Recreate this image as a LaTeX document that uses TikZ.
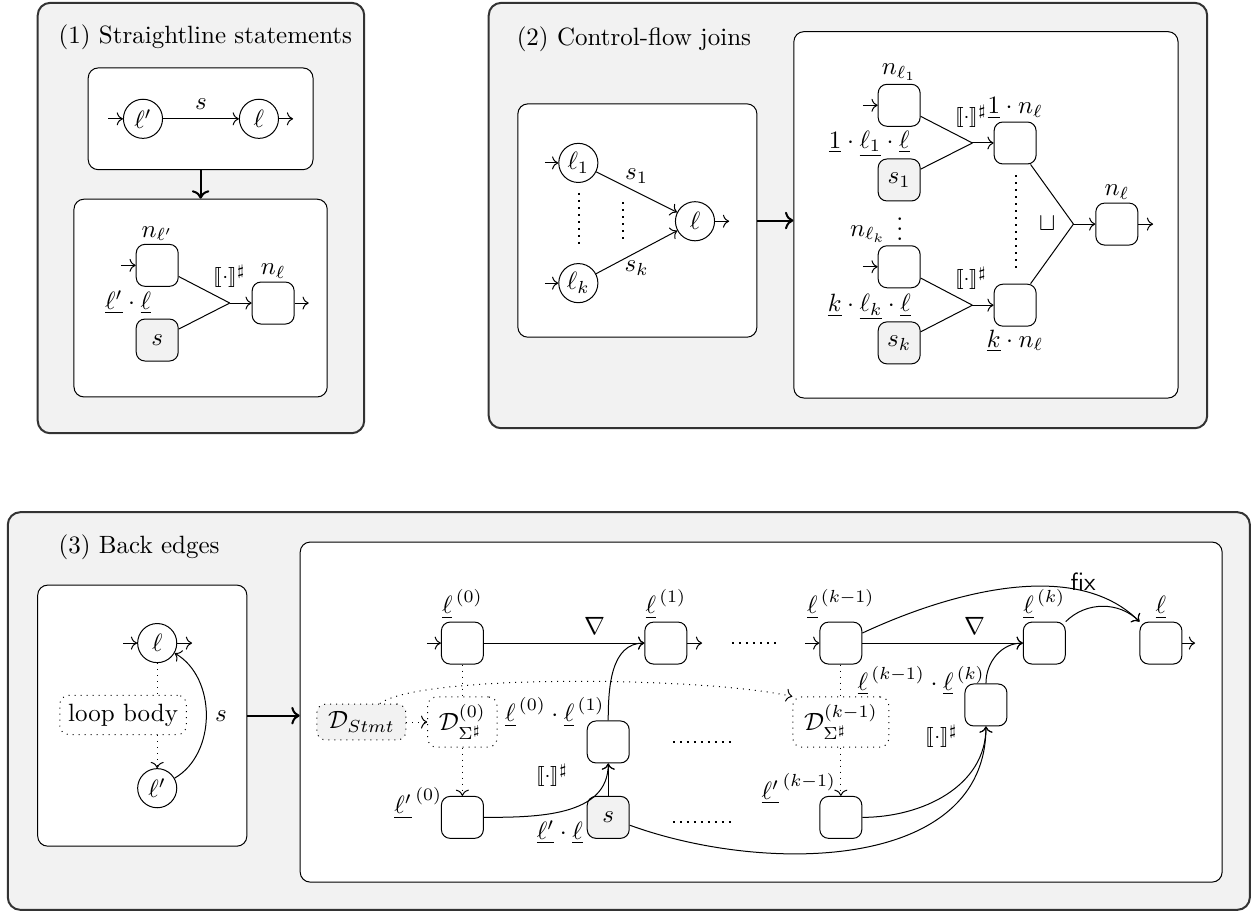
\documentclass[tikz,border=0pt]{standalone}
\usepackage{amsmath}
\usepackage{amssymb}
\IfFileExists{stmaryrd.sty}{\usepackage{stmaryrd}}{%
  \providecommand{\llbracket}{[\![}\providecommand{\rrbracket}{]\!]}}
\usepackage{tikz}
\usetikzlibrary{arrows.meta, positioning, calc}

\newcommand{\absem}{\ensuremath{\llbracket\cdot\rrbracket^{\sharp}}}

\begin{document}
\begin{tikzpicture}[
  panel/.style={
    draw=black!80,
    thick,
    fill=gray!10,
    rounded corners=5pt
  },
  container/.style={
    draw,
    fill=white,
    rounded corners=4pt,
    inner sep=0pt
  },
  locnode/.style={
    draw,
    circle,
    inner sep=1pt,
    minimum size=0.55cm
  },
  absbox/.style={
    draw,
    rounded corners=3.5pt,
    minimum size=0.59cm,
    inner sep=1pt
  },
  stmtbox/.style={
    absbox,
    fill=gray!10
  },
  dombox/.style={
    draw,
    dotted,
    rounded corners=3.5pt,
    inner xsep=4.5pt,
    inner ysep=3pt
  },
  lbl/.style={
    inner sep=0pt
  },
  semop/.style={
    lbl,
    font=\footnotesize
  },
  dotrow/.style={
    thick,
    dotted
  },
  every label/.style={
    inner sep=1pt
  }
]

\useasboundingbox (0,0) rectangle (17.60,-12.81);

% Panels
\draw[panel] (0.53,-0.04) rectangle (5.12,-6.09);
\draw[panel] (6.87,-0.04) rectangle (16.97,-6.02);
\draw[panel] (0.11,-7.20) rectangle (17.57,-12.79);

% Titles
\node[anchor=west] (titleA) at (0.70,-0.53) {(1) Straightline statements};
\node[anchor=west] (titleB) at (7.14,-0.55) {(2) Control-flow joins};
\node[anchor=west] (titleC) at (0.70,-7.69) {(3) Back edges};

% ---------------- (1) Straightline statements ----------------
\node[container, minimum width=3.16cm, minimum height=1.43cm] (seqA) at (2.82,-1.67) {};
\node[container, minimum width=3.56cm, minimum height=2.78cm] (seqB) at (2.82,-4.19) {};
\draw[thick, ->] (seqA) -- (seqB);

\node[locnode] (lpA) at (2.01,-1.67) {$\ell'$};
\node[locnode] (lA) at (3.64,-1.67) {$\ell$};
\coordinate (inA) at (1.52,-1.67);
\coordinate (outA) at (4.12,-1.67);
\draw[->] (inA) -- (lpA);
\draw[->] (lpA) -- node[above] {$s$} (lA);
\draw[->] (lA) -- (outA);

\node[absbox, label=above:{$n_{\ell'}$}] (nlpA) at (2.21,-3.73) {};
\node[stmtbox] (sA) at (2.21,-4.78) {$s$};
\node[absbox, label=above:{$n_{\ell}$}] (nlA) at (3.84,-4.26) {};
\node[lbl] (edgeA) at (1.80,-4.25) {$\underline{\ell'}\cdot\underline{\ell}$};
\node[semop] (opA) at (3.23,-3.88) {\absem};
\coordinate (jnA) at (3.23,-4.26);
\coordinate (inB) at (1.70,-3.73);
\coordinate (outB) at (4.34,-4.26);
\draw[->] (inB) -- (nlpA);
\draw (nlpA) -- (jnA) (sA) -- (jnA);
\draw[->] (jnA) -- (nlA);
\draw[->] (nlA) -- (outB);

% ---------------- (2) Control-flow joins ----------------
\node[container, minimum width=3.36cm, minimum height=3.28cm] (joinA) at (8.96,-3.10) {};
\node[container, minimum width=5.40cm, minimum height=5.15cm] (joinB) at (13.86,-3.02) {};
\draw[thick, ->] (joinA.east) -- (joinA.east -| joinB.west);

\node[locnode] (lOne) at (8.13,-2.29) {$\ell_1$};
\node[locnode] (lK) at (8.13,-3.98) {$\ell_k$};
\node[locnode] (lJ) at (9.77,-3.11) {$\ell$};
\coordinate (inOne) at (7.66,-2.29);
\coordinate (inK) at (7.66,-3.98);
\coordinate (outJ) at (10.25,-3.11);
\draw[->] (inOne) -- (lOne);
\draw[->] (inK) -- (lK);
\draw[->] (lOne) -- node[above] {$s_1$} (lJ);
\draw[->] (lK) -- node[below] {$s_k$} (lJ);
\draw[->] (lJ) -- (outJ);
\draw[dotrow] (8.14,-2.71) -- (8.14,-3.49);
\draw[dotrow] (8.76,-2.84) -- (8.76,-3.39);

\node[absbox, label=above:{$n_{\ell_1}$}] (nOne) at (12.64,-1.48) {};
\node[stmtbox] (sOne) at (12.64,-2.53) {$s_1$};
\node[absbox, label=above:{$\underline{1}\cdot n_{\ell}$}] (aOne) at (14.27,-2.01) {};
\node[absbox] (nK) at (12.64,-3.75) {};
\node[stmtbox] (sK) at (12.64,-4.82) {$s_k$};
\node[absbox, label=below:{$\underline{k}\cdot n_{\ell}$}] (aK) at (14.27,-4.29) {};
\node[absbox, label=above:{$n_{\ell}$}] (nJ) at (15.70,-3.15) {};

\node[lbl] (edgeOne) at (12.22,-2.02) {$\underline{1}\cdot\underline{\ell_1}\cdot\underline{\ell}$};
\node[lbl] (edgeK) at (12.22,-4.32) {$\underline{k}\cdot\underline{\ell_k}\cdot\underline{\ell}$};
\node[semop] (opOne) at (13.65,-1.63) {\absem};
\node[semop] (opK) at (13.65,-3.91) {\absem};
\node[lbl] (vdotsK) at (12.65,-3.12) {$\vdots$};
\node[lbl] (nlkLabel) at (12.20,-3.29) {$n_{\ell_k}$};
\node[lbl] (joinOp) at (14.72,-3.14) {$\sqcup$};
\draw[dotrow] (14.28,-2.46) -- (14.28,-3.82);

\coordinate (jnOne) at (13.67,-2.01);
\coordinate (jnK) at (13.67,-4.29);
\coordinate (jnJ) at (15.09,-3.15);
\coordinate (inNOne) at (12.13,-1.48);
\coordinate (inNK) at (12.13,-3.75);
\coordinate (outNJ) at (16.21,-3.15);
\draw[->] (inNOne) -- (nOne);
\draw[->] (inNK) -- (nK);
\draw (nOne) -- (jnOne) (sOne) -- (jnOne);
\draw (nK) -- (jnK) (sK) -- (jnK);
\draw[->] (jnOne) -- (aOne);
\draw[->] (jnK) -- (aK);
\draw (aOne) -- (jnJ) (aK) -- (jnJ);
\draw[->] (jnJ) -- (nJ);
\draw[->] (nJ) -- (outNJ);

% ---------------- (3) Back edges ----------------
\node[container, minimum width=2.94cm, minimum height=3.67cm] (loopA) at (2.00,-10.06) {};
\node[container, minimum width=12.96cm, minimum height=4.78cm] (loopB) at (10.70,-10.01) {};
\draw[thick, ->] (loopA.east) -- (loopA.east -| loopB.west);

\node[locnode] (lL) at (2.21,-9.04) {$\ell$};
\node[locnode] (lpL) at (2.21,-11.08) {$\ell'$};
\node[draw, dotted, rounded corners=3.5pt] (body) at (1.73,-10.05) {loop body};
\coordinate (inL) at (1.73,-9.04);
\coordinate (outL) at (2.70,-9.04);
\draw[->] (inL) -- (lL);
\draw[->] (lL) -- (outL);
\draw[dotted] (lL) -- (lL |- body.north);
\draw[dotted, ->] (lpL |- body.south) -- (lpL);
\draw[->] (lpL) to[bend right=60] node[right] {$s$} (lL);

% top row
\node[absbox, label=above:{$\underline{\ell}^{\,(0)}$}] (bZero) at (6.50,-9.04) {};
\node[absbox, label=above:{$\underline{\ell}^{\,(1)}$}] (bOne) at (9.36,-9.04) {};
\node[absbox, label=above:{$\underline{\ell}^{\,(k-1)}$}] (bKm) at (11.82,-9.04) {};
\node[absbox, label=above:{$\underline{\ell}^{\,(k)}$}] (bK) at (14.68,-9.04) {};
\node[absbox, label=above:{$\underline{\ell}$}] (bFix) at (16.32,-9.04) {};

% middle row
\node[dombox, fill=gray!10] (dStmt) at (5.08,-10.15) {$\mathcal{D}_{Stmt}$};
\node[dombox] (dZero) at (6.50,-10.15) {$\mathcal{D}^{(0)}_{\Sigma^\sharp}$};
\node[dombox] (dKm) at (11.82,-10.15) {$\mathcal{D}^{(k-1)}_{\Sigma^\sharp}$};
\node[absbox] (mOne) at (8.55,-10.43) {};
\node[absbox] (mK) at (13.86,-9.91) {};

% bottom row
\node[absbox] (bpZero) at (6.50,-11.49) {};
\node[stmtbox] (sL) at (8.55,-11.49) {$s$};
\node[absbox] (bpKm) at (11.82,-11.49) {};

% labels
\node[lbl] (edgeC1) at (7.80,-10.01) {$\underline{\ell}^{\,(0)}\cdot\underline{\ell}^{\,(1)}$};
\node[semop] (opC1) at (7.76,-10.90) {\absem};
\node[lbl] (edgeC2) at (7.87,-11.70) {$\underline{\ell'}\cdot\underline{\ell}$};
\node[lbl] (edgeC3) at (5.88,-11.29) {$\underline{\ell'}^{\,(0)}$};
\node[lbl] (edgeC4) at (12.95,-9.57) {$\underline{\ell}^{\,(k-1)}\cdot\underline{\ell}^{\,(k)}$};
\node[semop] (opC2) at (13.24,-10.35) {\absem};
\node[lbl] (edgeC5) at (11.23,-11.09) {$\underline{\ell'}^{\,(k-1)}$};
\draw[dotrow] (10.29,-9.04) -- (10.94,-9.04);
\draw[dotrow] (9.46,-10.43) -- (10.33,-10.43);
\draw[dotrow] (9.46,-11.56) -- (10.33,-11.56);

% edges
\coordinate (inZ) at (6.00,-9.04);
\coordinate (outO) at (9.87,-9.04);
\coordinate (inKm) at (11.32,-9.04);
\coordinate (outF) at (16.80,-9.04);
\draw[->] (inZ) -- (bZero);
\draw[->] (bOne) -- (outO);
\draw[->] (inKm) -- (bKm);
\draw[->] (bFix) -- (outF);

\draw[->] (bZero) -- node[pos=0.69, above] {$\nabla$} (bOne);
\draw[->] (bpZero) to[out=0, in=-90] (mOne);
\draw[->] (sL) -- (mOne);
\draw[->] (mOne) to[out=90, in=180] (bOne);

\draw[->] (bKm) -- node[pos=0.7, above] {$\nabla$} (bK);
\draw[->] (bpKm) to[out=0, in=-90] (mK);
\draw[->] (sL) to[out=-20, in=-90] (mK);
\draw[->] (mK) to[out=90, in=180] (bK);
\draw[->] (bK) to[out=45, in=135] (bFix);
\draw[->] (bKm) to[out=25, in=135, looseness=0.85]
  node[pos=0.76, above, inner sep=0pt] {\textsf{fix}} (bFix);

% domain links
\draw[dotted] (bZero) -- (dZero);
\draw[dotted, ->] (dZero) -- (bpZero);
\draw[dotted, ->] (dStmt) -- (dZero);
\draw[dotted] (bKm) -- (dKm);
\draw[dotted, ->] (dKm) -- (bpKm);
\draw[dotted, ->] (dStmt.45) .. controls +(0.56,0.42) and +(-1.27,0.28) .. (dKm.north west);

\end{tikzpicture}
\end{document}
